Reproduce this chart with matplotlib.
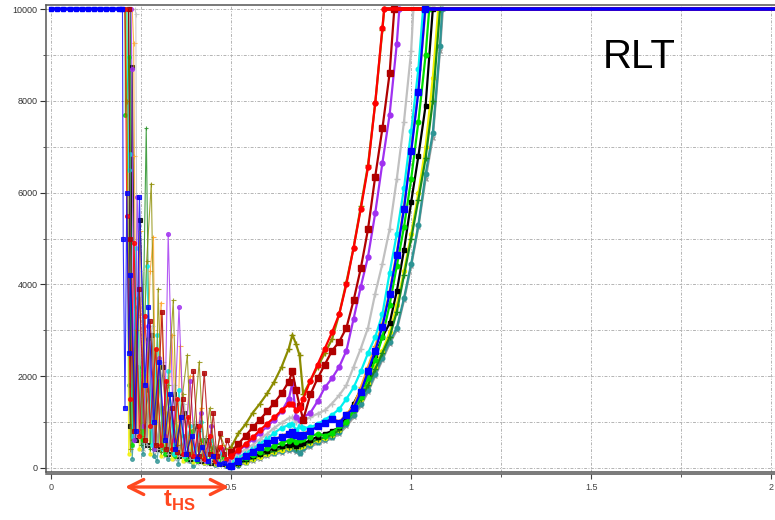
import matplotlib
matplotlib.use("Agg")
import matplotlib.pyplot as plt
from matplotlib.ticker import MultipleLocator, FuncFormatter

plt.rcParams['font.family'] = ['Liberation Sans', 'DejaVu Sans']
plt.rcParams['mathtext.fontset'] = 'custom'
plt.rcParams['mathtext.rm'] = 'Liberation Sans'
plt.rcParams['mathtext.bf'] = 'Liberation Sans:bold'

# sample times of the rising part (shared by all curves)
rise_t = [0.50, 0.52, 0.54, 0.56, 0.58, 0.60, 0.62, 0.64, 0.66, 0.67, 0.68, 0.69,
          0.70, 0.72, 0.74, 0.76, 0.78, 0.80, 0.82, 0.84, 0.86, 0.88, 0.90, 0.92,
          0.94, 0.96, 0.98, 1.00, 1.02, 1.04, 1.06, 1.08]
y_cap = 10000
t_end = 2.01

# blue sits on the cap before the trip window
blue_flat_t = [0.0, 0.017, 0.034, 0.051, 0.068, 0.085, 0.102, 0.119, 0.136,
               0.153, 0.17, 0.187, 0.198]

# noisy part (0.2 .. 0.5) : times and values per curve
blue_nx = [0.198, 0.20, 0.205, 0.21, 0.215, 0.22, 0.235, 0.245, 0.26, 0.27, 0.285, 0.30,
           0.315, 0.33, 0.345, 0.36, 0.375, 0.39, 0.405, 0.42, 0.435, 0.45, 0.465, 0.48, 0.49]
blue_ny = [10000, 5000, 1300, 6000, 2500, 4200, 800, 5900, 1800, 3500, 1000, 2300,
           600, 1600, 400, 1100, 300, 700, 200, 450, 150, 250, 80, 100, 40]
red_nx = [0.205, 0.21, 0.22, 0.23, 0.245, 0.26, 0.275, 0.29, 0.305, 0.32, 0.335, 0.35,
          0.365, 0.38, 0.395, 0.41, 0.425, 0.44, 0.455, 0.47, 0.485]
red_ny = [10000, 5500, 1500, 4900, 700, 3300, 900, 2600, 500, 1900, 400, 1500,
          300, 1100, 250, 900, 200, 700, 150, 450, 200]
darkred_nx = [0.215, 0.22, 0.23, 0.245, 0.26, 0.275, 0.29, 0.308, 0.32, 0.335, 0.35, 0.365,
              0.38, 0.395, 0.41, 0.425, 0.44, 0.45, 0.46, 0.469, 0.48, 0.489]
darkred_ny = [10000, 5000, 800, 3900, 600, 3200, 500, 3400, 400, 1300, 350, 1500,
              300, 2100, 250, 2070, 300, 1200, 250, 760, 300, 600]
purple_nx = [0.222, 0.224, 0.23, 0.239, 0.255, 0.27, 0.285, 0.30, 0.315, 0.325, 0.34, 0.355,
             0.37, 0.386, 0.40, 0.415, 0.43, 0.445, 0.46, 0.475, 0.49]
purple_ny = [10000, 8700, 600, 5900, 900, 3100, 400, 2400, 700, 5100, 600, 3500,
             300, 1900, 250, 1200, 150, 900, 100, 400, 150]
olive_nx = [0.205, 0.21, 0.22, 0.235, 0.25, 0.265, 0.278, 0.29, 0.297, 0.31, 0.325, 0.339,
            0.35, 0.365, 0.378, 0.39, 0.411, 0.425, 0.44, 0.455, 0.47, 0.485]
olive_ny = [10000, 8000, 400, 3000, 700, 4500, 6200, 500, 3900, 400, 1800, 3650,
            500, 1600, 2450, 300, 2300, 250, 1300, 200, 700, 400]
silver_nx = [0.233, 0.235, 0.24, 0.25, 0.265, 0.28, 0.295, 0.31, 0.325, 0.34, 0.355, 0.37,
             0.385, 0.40, 0.415, 0.43, 0.445, 0.46, 0.475, 0.49]
silver_ny = [10000, 9900, 700, 4300, 500, 3100, 400, 2300, 300, 1800, 250, 1400,
             200, 1000, 150, 700, 120, 450, 100, 200]
cyan_nx = [0.21, 0.215, 0.219, 0.225, 0.235, 0.25, 0.265, 0.28, 0.295, 0.31, 0.325, 0.34,
           0.355, 0.37, 0.385, 0.40, 0.415, 0.43, 0.445, 0.46, 0.475, 0.49]
cyan_ny = [10000, 6500, 6850, 700, 4800, 900, 4400, 500, 2900, 400, 2100, 300,
           1700, 250, 900, 200, 1000, 150, 600, 120, 350, 130]
lime_nx = [0.205, 0.206, 0.217, 0.225, 0.24, 0.255, 0.27, 0.285, 0.30, 0.315, 0.33, 0.345,
           0.36, 0.375, 0.39, 0.405, 0.42, 0.435, 0.45, 0.465, 0.48, 0.495]
lime_ny = [10000, 7700, 8950, 500, 3700, 600, 2800, 400, 1900, 300, 1600, 250,
           1100, 200, 800, 150, 600, 120, 450, 100, 250, 60]
black_nx = [0.215, 0.22, 0.225, 0.235, 0.247, 0.265, 0.28, 0.295, 0.31, 0.325, 0.34, 0.355,
            0.37, 0.385, 0.40, 0.415, 0.43, 0.445, 0.46, 0.475, 0.49]
black_ny = [10000, 900, 8750, 600, 5400, 500, 2900, 400, 2200, 300, 1600, 250,
            1200, 200, 900, 150, 600, 100, 400, 80, 60]
darkgreen_nx = [0.22, 0.225, 0.235, 0.25, 0.264, 0.275, 0.29, 0.305, 0.32, 0.335, 0.35, 0.365,
                0.38, 0.395, 0.41, 0.425, 0.44, 0.455, 0.47, 0.485]
darkgreen_ny = [10000, 600, 3500, 500, 7400, 400, 2600, 350, 1900, 300, 1500, 250,
                1100, 200, 800, 150, 550, 100, 300, 60]
yellow_nx = [0.21, 0.215, 0.23, 0.245, 0.26, 0.275, 0.29, 0.305, 0.32, 0.335, 0.35, 0.365,
             0.38, 0.395, 0.41, 0.425, 0.44, 0.455, 0.47, 0.485]
yellow_ny = [10000, 300, 2600, 400, 2000, 300, 1500, 250, 1200, 200, 900, 150,
             700, 120, 500, 100, 350, 80, 200, 50]
teal_nx = [0.21, 0.215, 0.225, 0.24, 0.255, 0.27, 0.285, 0.294, 0.31, 0.325, 0.34, 0.353,
           0.37, 0.385, 0.394, 0.41, 0.425, 0.44, 0.455, 0.47, 0.485]
teal_ny = [10000, 1800, 200, 2200, 300, 1700, 250, 150, 1300, 200, 1000, 90,
           700, 150, 30, 500, 100, 350, 60, 200, 30]
orange_nx = [0.225, 0.229, 0.231, 0.237, 0.247, 0.26, 0.275, 0.284, 0.29, 0.305, 0.32, 0.335,
             0.35, 0.358, 0.37, 0.385, 0.40, 0.415, 0.43, 0.445, 0.46, 0.475, 0.49]
orange_ny = [10000, 9270, 6800, 800, 5170, 600, 4300, 5040, 500, 3600, 400, 2900,
             300, 2650, 250, 2000, 200, 1300, 150, 900, 120, 500, 80]
gray_nx = [0.22, 0.225, 0.24, 0.255, 0.27, 0.285, 0.30, 0.315, 0.33, 0.345, 0.36, 0.375,
           0.39, 0.405, 0.42, 0.435, 0.45, 0.465, 0.48, 0.495]
gray_ny = [10000, 500, 3300, 400, 2500, 300, 1800, 250, 1300, 200, 1000, 150,
           700, 100, 500, 80, 300, 50, 100, 20]

# rising part, values on rise_t until the curve hits the cap
red_rise = [250, 380, 520, 660, 820, 960, 1100, 1250, 1380, 1400, 1250, 1300, 1500, 1900,
            2250, 2600, 2950, 3350, 4000, 4800, 5650, 6550, 7950, 9600]
darkred_rise = [350, 520, 700, 880, 1050, 1230, 1420, 1620, 1880, 2100, 1700, 1350, 1050,
                1600, 1950, 2250, 2550, 2750, 3050, 3650, 4350, 5200, 6350, 7400, 8600]
olive_rise = [450, 750, 950, 1200, 1400, 1620, 1880, 2200, 2600, 2900, 2700, 2450, 1600,
              1900, 2200, 2500, 2800, 3350, 4050, 4800, 5700, 6600, 7950, 9550]
purple_rise = [250, 370, 490, 620, 760, 900, 1050, 1230, 1500, 1850, 1100, 1050, 1100, 1200,
               1450, 1750, 1950, 2200, 2550, 3250, 3950, 4600, 5550, 6650, 7700, 9250]
silver_rise = [200, 300, 400, 500, 620, 740, 870, 980, 1080, 1100, 1000, 1000, 1030, 1100,
               1180, 1250, 1400, 1580, 1800, 2200, 2600, 3050, 3800, 4450, 5200, 6300, 7550, 9100]
cyan_rise = [150, 230, 320, 420, 530, 640, 760, 870, 930, 960, 820, 900, 870, 880, 950,
             1050, 1150, 1280, 1500, 1750, 2100, 2500, 2850, 3350, 4250, 5100, 6100, 7350, 8700]
blue_rise = [40, 150, 250, 350, 460, 540, 610, 680, 740, 770, 720, 700, 720, 800, 900, 980,
             1070, 980, 1150, 1300, 1650, 2100, 2550, 3080, 3800, 4650, 5650, 6900, 8200]
lime_rise = [60, 130, 210, 280, 350, 420, 480, 540, 590, 620, 560, 600, 620, 680, 740, 700,
             760, 900, 1000, 1250, 1550, 1950, 2350, 2850, 3550, 4400, 5250, 6300, 7550, 9000]
black_rise = [50, 110, 180, 250, 310, 370, 420, 470, 500, 520, 480, 510, 530, 600, 680, 740,
              800, 880, 1100, 1400, 1700, 2050, 2450, 2850, 3150, 3850, 4750, 5800, 6800, 7900]
darkgreen_rise = [30, 90, 150, 210, 270, 320, 370, 420, 460, 480, 440, 470, 500, 550, 620,
                  660, 720, 820, 1000, 1250, 1500, 1800, 2150, 2500, 2850, 3400, 4200, 5000,
                  5850, 6750, 8000]
yellow_rise = [40, 80, 130, 180, 240, 290, 340, 390, 440, 480, 450, 460, 480, 540, 600, 650,
               720, 830, 1000, 1250, 1500, 1850, 2200, 2550, 2950, 3550, 4300, 5100, 6000,
               7000, 8500]
teal_rise = [20, 70, 130, 190, 240, 290, 330, 370, 410, 430, 380, 330, 420, 500, 570, 620,
             680, 780, 950, 1150, 1400, 1700, 2050, 2400, 2750, 3050, 3700, 4450, 5300, 6400,
             7300, 9200]
orange_rise = [60, 170, 270, 370, 470, 550, 620, 690, 760, 790, 740, 720, 740, 820, 920, 1000,
               1090, 1000, 1170, 1350, 1750, 2200, 2650, 3150, 3850, 4700, 5700, 6950, 8250]
gray_rise = [10, 50, 100, 150, 200, 250, 290, 330, 370, 390, 340, 300, 380, 460, 530, 580,
             640, 740, 900, 1100, 1350, 1650, 2000, 2350, 2700, 3000, 3650, 4400, 5250, 6300,
             7200, 9100]

# time at which each curve reaches the cap again
red_reach = 0.925
darkred_reach = 0.953
olive_reach = 0.925
purple_reach = 0.967
silver_reach = 1.006
cyan_reach = 1.033
blue_reach = 1.039
lime_reach = 1.05
black_reach = 1.06
darkgreen_reach = 1.08
yellow_reach = 1.075
teal_reach = 1.086
orange_reach = 1.04
gray_reach = 1.088

# drawing order: back to front
curves = [
    (gray_nx, gray_ny, gray_rise, gray_reach, '#9c9c9c', 'x', 3.0),
    (teal_nx, teal_ny, teal_rise, teal_reach, '#2e9494', 'o', 3.0),
    (yellow_nx, yellow_ny, yellow_rise, yellow_reach, '#f2f200', 'o', 2.6),
    (darkgreen_nx, darkgreen_ny, darkgreen_rise, darkgreen_reach, '#1a8a1a', '+', 3.5),
    (black_nx, black_ny, black_rise, black_reach, '#000000', 's', 3.0),
    (lime_nx, lime_ny, lime_rise, lime_reach, '#00e000', 'o', 3.0),
    (orange_nx, orange_ny, orange_rise, orange_reach, '#ffa020', '+', 4.0),
    (cyan_nx, cyan_ny, cyan_rise, cyan_reach, '#00f0f0', 'o', 3.0),
    (silver_nx, silver_ny, silver_rise, silver_reach, '#c0c0c0', '+', 4.0),
    (purple_nx, purple_ny, purple_rise, purple_reach, '#a030f0', 'o', 3.2),
    (olive_nx, olive_ny, olive_rise, olive_reach, '#8c8c00', '+', 4.0),
    (darkred_nx, darkred_ny, darkred_rise, darkred_reach, '#b00000', 's', 3.4),
    (red_nx, red_ny, red_rise, red_reach, '#ff0000', 'o', 3.2),
    (blue_nx, blue_ny, blue_rise, blue_reach, '#0000ff', 's', 3.4),
]

fig = plt.figure(figsize=(7.75, 5.2), dpi=100)
ax = fig.add_axes([45.7 / 775, 1 - 471.7 / 520, (775 - 45.7) / 775, 466.7 / 520])

for nx, ny, rise, reach, col, mk, ms in curves:
    # noisy window: thin lines
    ax.plot(nx + rise_t[:1], ny + rise[:1], color=col, marker=mk, ms=ms * 0.9, mew=0.8,
            lw=0.8, alpha=0.8)
    # rising part: thicker trace
    ax.plot(rise_t[:len(rise)] + [reach], rise + [y_cap], color=col, marker=mk, ms=ms * 1.1,
            mew=1.0, lw=1.6)
    ax.plot([reach, t_end], [y_cap, y_cap], color=col, lw=2.6, solid_capstyle='butt')

# blue at the cap before the drop
ax.plot(blue_flat_t, [y_cap] * len(blue_flat_t), color='#0000ff', marker='s', ms=3.2,
        lw=2.6)

ax.set_xlim(-0.0153, 2.0106)
ax.set_ylim(-87, 10094)

ax.xaxis.set_major_locator(MultipleLocator(0.5))
ax.xaxis.set_minor_locator(MultipleLocator(0.25))
ax.yaxis.set_major_locator(MultipleLocator(2000))
ax.yaxis.set_minor_locator(MultipleLocator(1000))
ax.xaxis.set_major_formatter(FuncFormatter(lambda v, p: '%g' % v))

ax.grid(True, which='both', color='#b4b4b4', linestyle=(0, (3, 1.5, 1, 1.5)), lw=0.7)
ax.set_axisbelow(True)

ax.spines['right'].set_visible(False)
for s in ['top', 'left']:
    ax.spines[s].set_color('#555555')
    ax.spines[s].set_linewidth(1.1)
ax.spines['bottom'].set_position(('outward', 1.8))
ax.spines['bottom'].set_color('#555555')
ax.spines['bottom'].set_linewidth(1.1)
ax.plot([0, 1], [0, 0], transform=ax.transAxes, color='#555555', lw=1.1, clip_on=False)

ax.tick_params(axis='y', which='major', length=4, width=0.8, labelsize=6.5,
               colors='#333333', pad=2)
ax.tick_params(axis='y', which='minor', length=2.2, width=0.7, colors='#555555')
ax.tick_params(axis='x', which='major', length=3.6, width=0.8, labelsize=6.5,
               colors='#444444', pad=2.5)
ax.tick_params(axis='x', which='minor', length=2, width=0.7, colors='#555555')

ax.text(1.533, 8726, 'RLT', fontsize=29, ha='left', va='baseline', color='black')

# trip window arrow
ax.annotate('', xy=(0.494, 1 - 487 / 520), xytext=(0.205, 1 - 487 / 520),
            xycoords=('data', 'figure fraction'), textcoords=('data', 'figure fraction'),
            arrowprops=dict(arrowstyle='<->, head_length=0.9, head_width=0.45',
                            mutation_scale=12, color='#ff4820', lw=2.4,
                            shrinkA=0, shrinkB=0),
            annotation_clip=False)
fig.text(179 / 775, 1 - 507 / 520, r'$\mathbf{t}_{\mathbf{HS}}$', fontsize=17,
         color='#ff4820', ha='center', va='baseline')

fig.savefig('out.png', dpi=100)
